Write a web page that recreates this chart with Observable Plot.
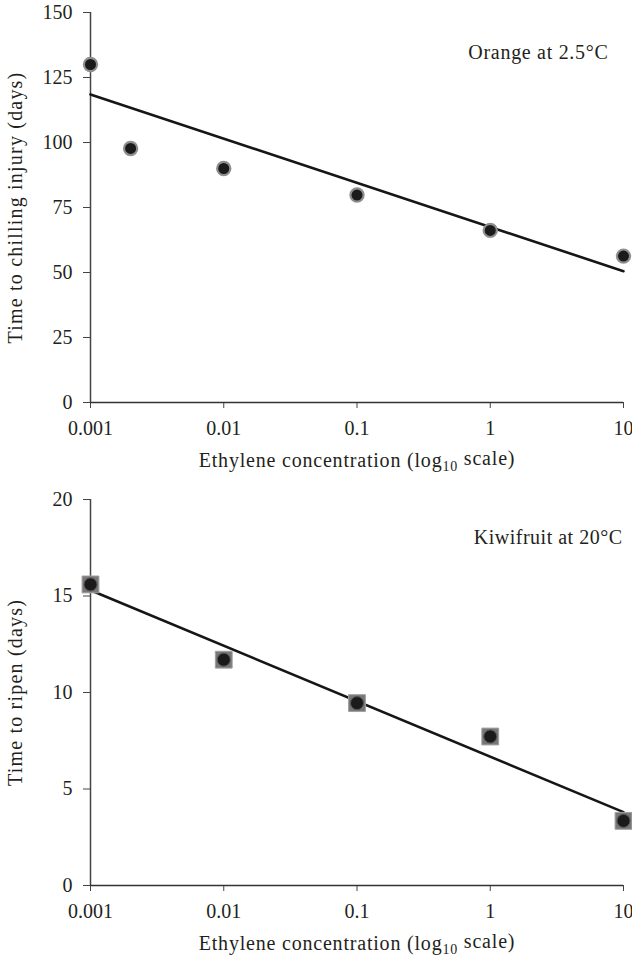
<!DOCTYPE html>
<html>
<head>
<meta charset="utf-8">
<script src="https://cdn.jsdelivr.net/npm/d3@7"></script>
<script src="https://cdn.jsdelivr.net/npm/@observablehq/plot@0.6"></script>
<style>
  html, body { margin: 0; padding: 0; background: #fff; }
  #chart { width: 632px; }
  svg { display: block; }
  svg, svg text { font-family: "Liberation Serif", "DejaVu Serif", serif !important; }
</style>
</head>
<body>
<div id="chart"></div>
<script>
// ---- data ----
const xTicks = [0.001, 0.01, 0.1, 1, 10];
const xTickLabels = ["0.001", "0.01", "0.1", "1", "10"];

const orangeConc = [0.001, 0.002, 0.01, 0.1, 1, 10];
const orangeDays = [130, 97.7, 90, 79.8, 66.2, 56.3];
const orangeFitConc = [0.001, 10];
const orangeFitDays = [118.5, 50.5];
const orangeTicks = [0, 25, 50, 75, 100, 125, 150];

const kiwiConc = [0.001, 0.01, 0.1, 1, 10];
const kiwiDays = [15.6, 11.7, 9.45, 7.72, 3.35];
const kiwiFitConc = [0.001, 10];
const kiwiFitDays = [15.3, 3.8];
const kiwiTicks = [0, 5, 10, 15, 20];

const xLabel = "Ethylene concentration (log10 scale)";
const orangeYLabel = "Time to chilling injury (days)";
const kiwiYLabel = "Time to ripen (days)";
const orangeNote = "Orange at 2.5°C";
const kiwiNote = "Kiwifruit at 20°C";

const zip = (xs, ys) => xs.map((x, i) => ({x, y: ys[i]}));

function panel(opts) {
  const {data, fit, yDomain, yTicks, yLabel, note, square, height, marginTop, marginBottom, noteDx, noteDy, noteSpacing, yLabelSpacing} = opts;
  const plot = Plot.plot({
    width: 632,
    height,
    marginLeft: 90,
    marginRight: 9,
    marginTop,
    marginBottom,
    style: {fontFamily: "'Liberation Serif', 'DejaVu Serif', serif", fontSize: "20px", color: "#231f20", background: "white", overflow: "visible"},
    x: {type: "log", domain: [0.001, 10]},
    y: {domain: yDomain},
    marks: [
      Plot.axisX({ticks: xTicks, tickFormat: d => xTickLabels[xTicks.indexOf(d)] ?? String(d), tickSize: 6, tickPadding: 12, fontSize: 20, label: xLabel, labelAnchor: "center", labelOffset: 64, labelArrow: "none", stroke: "#444"}),
      Plot.axisY({ticks: yTicks, tickSize: 7, tickPadding: 11, fontSize: 20, label: yLabel, labelAnchor: "center", labelOffset: 83, labelArrow: "none", stroke: "#444"}),
      Plot.ruleX([0.001], {y1: yDomain[0], y2: yDomain[1], stroke: "#444", strokeWidth: 1.5}),
      Plot.ruleY([yDomain[0]], {stroke: "#333", strokeWidth: 1.5}),
      Plot.line(fit, {x: "x", y: "y", stroke: "#161616", strokeWidth: 2.6}),
      square ? Plot.dot(data, {x: "x", y: "y", symbol: "square", r: 9.5, fill: "#777", stroke: "#a0a0a0", strokeWidth: 1}) : null,
      Plot.dot(data, {x: "x", y: "y", r: square ? 6.5 : 6.6, fill: "#1c1a1b", stroke: square ? "#555" : "#8f8f8f", strokeWidth: square ? 1 : 2.2}),
      Plot.text([note], {frameAnchor: "top-right", dx: noteDx, dy: noteDy, fontSize: 20, fill: "#231f20", lineAnchor: "top"})
    ]
  });
  const svg = d3.select(plot);
  // subscript for log10 in the x-axis label
  svg.selectAll('[aria-label="x-axis label"] text').each(function() {
    const t = d3.select(this);
    t.text(null).style("letter-spacing", "0.8px");
    t.append("tspan").text("Ethylene concentration (log");
    t.append("tspan").attr("font-size", "14px").attr("dy", "0.3em").text("10");
    t.append("tspan").attr("dy", "-0.3em").text(" scale)");
  });
  svg.selectAll('[aria-label="y-axis label"] text').style("letter-spacing", yLabelSpacing);
  svg.selectAll('[aria-label="text"] text').style("letter-spacing", noteSpacing);
  return plot;
}

(function () {
  const topPanel = panel({
    data: zip(orangeConc, orangeDays),
    fit: zip(orangeFitConc, orangeFitDays),
    yDomain: [0, 150], yTicks: orangeTicks, yLabel: orangeYLabel, note: orangeNote,
    square: false, height: 480, marginTop: 12, marginBottom: 78, noteDx: -15, noteDy: 32,
    noteSpacing: "0.7px", yLabelSpacing: "1.2px"
  });
  const bottomPanel = panel({
    data: zip(kiwiConc, kiwiDays),
    fit: zip(kiwiFitConc, kiwiFitDays),
    yDomain: [0, 20], yTicks: kiwiTicks, yLabel: kiwiYLabel, note: kiwiNote,
    square: true, height: 483, marginTop: 19, marginBottom: 78, noteDx: -1, noteDy: 30,
    noteSpacing: "0.5px", yLabelSpacing: "1.2px"
  });
  document.getElementById("chart").append(topPanel, bottomPanel);
})();
</script>
</body>
</html>
